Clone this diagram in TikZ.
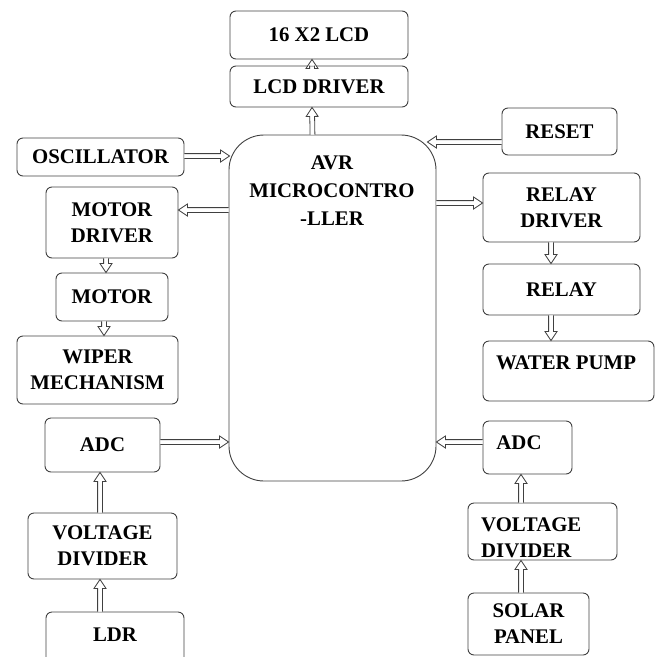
\documentclass[tikz,border=0pt]{standalone}
\usepackage{fontspec}
\setmainfont{Liberation Serif}
\usetikzlibrary{calc}
\definecolor{linegray}{HTML}{404040}
\tikzset{
  box/.style={draw=linegray, line width=0.9pt, rounded corners=6pt, inner sep=0pt,
    font=\bfseries\fontsize{20.8}{26}\selectfont, align=center},
  txt/.style={inner sep=0pt, font=\bfseries\fontsize{20.8}{26}\selectfont, align=center},
  arr/.style={draw=linegray, line width=0.8pt, line join=miter, fill=white}
}
% hollow block arrow between two named coordinates
\newcommand\harr[2]{%
  \draw[arr] ($(#1)!2.4pt!90:(#2)$)
    -- ($($(#2)!9pt!(#1)$)!2.4pt!90:(#2)$)
    -- ($($(#2)!9pt!(#1)$)!6pt!90:(#2)$)
    -- (#2)
    -- ($($(#2)!9pt!(#1)$)!6pt!-90:(#2)$)
    -- ($($(#2)!9pt!(#1)$)!2.4pt!-90:(#2)$)
    -- ($(#1)!2.4pt!-90:(#2)$);}
\begin{document}
\begin{tikzpicture}[x=1pt, y=-1pt]
\useasboundingbox (0,0) rectangle (657,657);
% boxes
\node[box, minimum width=178pt, minimum height=48pt] (lcd) at (319,35) {16 X2 LCD};
\node[box, minimum width=178pt, minimum height=41pt] (lcddrv) at (319,86.5) {LCD DRIVER};
\node[box, minimum width=167pt, minimum height=38pt] (osc) at (100.5,157) {OSCILLATOR};
\node[box, rounded corners=35pt, minimum width=207pt, minimum height=346pt] (mcu) at (332.5,308) {};
\node[txt] (mcutxt) at (332,191) {AVR\\[2pt]MICROCONTRO\\[2pt]-LLER};
\node[box, minimum width=132pt, minimum height=71pt] (motordrv) at (112,222.5) {MOTOR\\DRIVER};
\node[box, minimum width=112pt, minimum height=48pt] (motor) at (112,297) {MOTOR};
\node[box, minimum width=161pt, minimum height=68pt] (wiper) at (97.5,370) {WIPER\\MECHANISM};
\node[box, minimum width=115pt, minimum height=47pt] (reset) at (559.5,131.5) {RESET};
\node[box, minimum width=157pt, minimum height=69pt] (relaydrv) at (561.5,207.5) {RELAY\\DRIVER};
\node[box, minimum width=157pt, minimum height=51pt] (relay) at (561.5,289.5) {RELAY};
\node[box, minimum width=171pt, minimum height=60pt] (pump) at (568.5,371) {};
\node[txt] (pumptxt) at (566,363) {WATER PUMP};
\node[box, minimum width=115pt, minimum height=54pt] (adcl) at (102.5,445) {ADC};
\node[box, minimum width=149pt, minimum height=66pt] (vdl) at (102.5,546) {VOLTAGE\\DIVIDER};
\node[box, minimum width=138pt, minimum height=56pt] (ldr) at (115,640) {};
\node[txt] (ldrtxt) at (115,635) {LDR};
\node[box, minimum width=89pt, minimum height=53pt] (adcr) at (527.5,447.5) {};
\node[txt] (adcrtxt) at (519,443) {ADC};
\node[box, minimum width=149pt, minimum height=57pt] (vdr) at (542.5,531.5) {};
\node[txt, align=left, anchor=west] (vdrtxt) at (481,538) {VOLTAGE\\DIVIDER};
\node[box, minimum width=121pt, minimum height=62pt] (solar) at (528.5,624) {SOLAR\\PANEL};
% connector end points
\coordinate (c1s) at ([xshift=-20pt]mcu.north);
\coordinate (c1t) at ([xshift=-7pt]lcddrv.south);
\coordinate (c2s) at ([xshift=-7pt]lcddrv.north);
\coordinate (c2t) at ([xshift=-7pt]lcd.south);
\coordinate (c3s) at ([yshift=1pt]osc.east);
\coordinate (c3t) at ($(mcu.west |- c3s)+(1,0)$);
\coordinate (c4t) at ([yshift=12.5pt]motordrv.east);
\coordinate (c4s) at (mcu.west |- c4t);
\coordinate (c5s) at ([xshift=-6pt]motordrv.south);
\coordinate (c5t) at ([xshift=-6pt]motor.north);
\coordinate (c6s) at ([xshift=-8pt]motor.south);
\coordinate (c6t) at (c6s |- wiper.north);
\coordinate (c7s) at ([yshift=-10.5pt]reset.west);
\coordinate (c7t) at ($(mcu.east |- c7s)+(-9,0)$);
\coordinate (c8t) at ([yshift=4.5pt]relaydrv.west);
\coordinate (c8s) at (mcu.east |- c8t);
\coordinate (c9s) at ([xshift=-10.5pt]relaydrv.south);
\coordinate (c9t) at ([xshift=-10.5pt]relay.north);
\coordinate (c10s) at ([xshift=-10.5pt]relay.south);
\coordinate (c10t) at (c10s |- pump.north);
\coordinate (c11s) at ([yshift=3pt]adcl.east);
\coordinate (c11t) at (mcu.west |- c11s);
\coordinate (c12s) at ([xshift=-2.5pt]vdl.north);
\coordinate (c12t) at ([xshift=-2.5pt]adcl.south);
\coordinate (c13t) at ([xshift=-2.5pt]vdl.south);
\coordinate (c13s) at (c13t |- ldr.north);
\coordinate (c14s) at ([yshift=5.5pt]adcr.west);
\coordinate (c14t) at (mcu.east |- c14s);
\coordinate (c15t) at ([xshift=-6.5pt]adcr.south);
\coordinate (c15s) at (c15t |- vdr.north);
\coordinate (c16t) at (c15t |- vdr.south);
\coordinate (c16s) at (c15t |- solar.north);
% connectors
\harr{c1s}{c1t}
\harr{c2s}{c2t}
\harr{c3s}{c3t}
\harr{c4s}{c4t}
\harr{c5s}{c5t}
\harr{c6s}{c6t}
\harr{c7s}{c7t}
\harr{c8s}{c8t}
\harr{c9s}{c9t}
\harr{c10s}{c10t}
\harr{c11s}{c11t}
\harr{c12s}{c12t}
\harr{c13s}{c13t}
\harr{c14s}{c14t}
\harr{c15s}{c15t}
\harr{c16s}{c16t}
\end{tikzpicture}
\end{document}
